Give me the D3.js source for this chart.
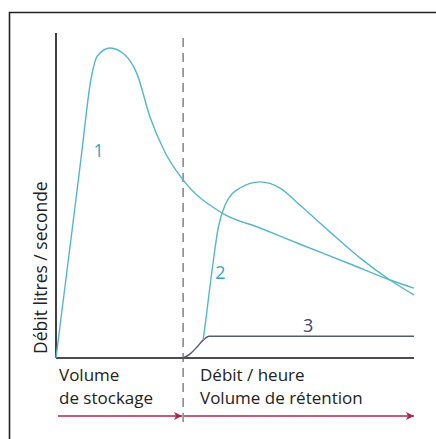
<!DOCTYPE html>
<html><head><meta charset="utf-8">
<script src="https://cdn.jsdelivr.net/npm/d3@7"></script>
<style>html,body{margin:0;padding:0;background:#fff;}svg{display:block;}</style>
</head><body>
<script>
// Data (abstract units: x 0..100 time, y 0..100 flow)
const curve1 = [[0,0],[4,35],[7,61.5],[9.8,86],[11.6,93],[15.1,95.4],[19.3,93.2],[22.6,87.5],[26.3,74],[30.4,63.4],[35.5,54.8],[46.4,44.6],[57,40],[68.2,35],[82,29],[93.3,24],[100,21.5]];
const curve2 = [[41.1,5.5],[42,13],[43,22],[44.2,32],[45.3,40],[47.2,47],[51.4,52.3],[57,54.2],[62.6,52.3],[68.2,47],[76.5,38.8],[84.9,30.8],[93.3,24],[100,19.4]];
const curve3 = [[35.5,0],[37.4,1.2],[39.4,3.4],[41.1,5.5],[42.8,6.7],[100,6.7]];
const splitX = 35.5;
const curveLabels = [{t:"1",x:10.5,y:62,c:"#3aa6b5"},{t:"2",x:44.5,y:24.3,c:"#3aa6b5"},{t:"3",x:69,y:8}];
const yTitle = "Débit litres / seconde";
const leftLabels = ["Volume","de stockage"];
const rightLabels = ["Débit / heure","Volume de rétention"];

const W=436,H=439;
const svg=d3.select("body").append("svg").attr("width",W).attr("height",H);
const x=d3.scaleLinear().domain([0,100]).range([56,414]);
const y=d3.scaleLinear().domain([0,100]).range([358,33]);
const font="'Open Sans', sans-serif";

// frame
svg.append("path").attr("d",`M9.5,${H} L9.5,12.5 L${W},12.5`).attr("fill","none").attr("stroke","#222").attr("stroke-width",1.6);

// axes
svg.append("line").attr("x1",x(0)).attr("x2",x(0)).attr("y1",y(100)).attr("y2",y(0)).attr("stroke","#111").attr("stroke-width",1.6);
svg.append("line").attr("x1",x(0)).attr("x2",x(100)).attr("y1",y(0)).attr("y2",y(0)).attr("stroke","#111").attr("stroke-width",1.6);

// dashed separator
svg.append("line").attr("x1",x(splitX)).attr("x2",x(splitX)).attr("y1",38).attr("y2",422)
  .attr("stroke","#555").attr("stroke-width",1.1).attr("stroke-dasharray","9,6");

const line=d3.line().x(d=>x(d[0])).y(d=>y(d[1])).curve(d3.curveMonotoneX);
svg.append("path").datum(curve1).attr("d",line).attr("fill","none").attr("stroke","#55b8c9").attr("stroke-width",1.4);
svg.append("path").datum(curve3).attr("d",line).attr("fill","none").attr("stroke","#555b66").attr("stroke-width",1.4);
svg.append("path").datum(curve2).attr("d",line).attr("fill","none").attr("stroke","#55b8c9").attr("stroke-width",1.4);

curveLabels.forEach(l=>{
  svg.append("text").attr("x",x(l.x)).attr("y",y(l.y)).text(l.t)
    .attr("font-family",font).attr("font-size",18).attr("fill",l.c||"#3d4c6a");
});

// y title
svg.append("text").attr("transform",`translate(47,354) rotate(-90)`).text(yTitle)
  .attr("font-family",font).attr("font-size",17.5).attr("fill","#222");

// bottom labels
leftLabels.forEach((t,i)=>svg.append("text").attr("x",59).attr("y",380.5+i*23.5).text(t)
  .attr("font-family",font).attr("font-size",17).attr("fill","#222"));
rightLabels.forEach((t,i)=>svg.append("text").attr("x",200).attr("y",380.5+i*23.5).text(t)
  .attr("font-family",font).attr("font-size",17).attr("fill","#222"));

// arrows
const red="#b3264b";
const defs=svg.append("defs");
defs.append("marker").attr("id","ah").attr("viewBox","0 0 10 10").attr("refX",10).attr("refY",5)
  .attr("markerWidth",10).attr("markerHeight",8).attr("markerUnits","userSpaceOnUse").attr("orient","auto")
  .append("path").attr("d","M0,0 L10,5 L0,10 L2.5,5 Z").attr("fill",red);
svg.append("line").attr("x1",58).attr("x2",x(splitX)-1).attr("y1",416).attr("y2",416).attr("stroke",red).attr("stroke-width",1.4).attr("marker-end","url(#ah)");
svg.append("line").attr("x1",x(splitX)+1).attr("x2",x(100)).attr("y1",416).attr("y2",416).attr("stroke",red).attr("stroke-width",1.4).attr("marker-end","url(#ah)");
</script>
</body></html>
